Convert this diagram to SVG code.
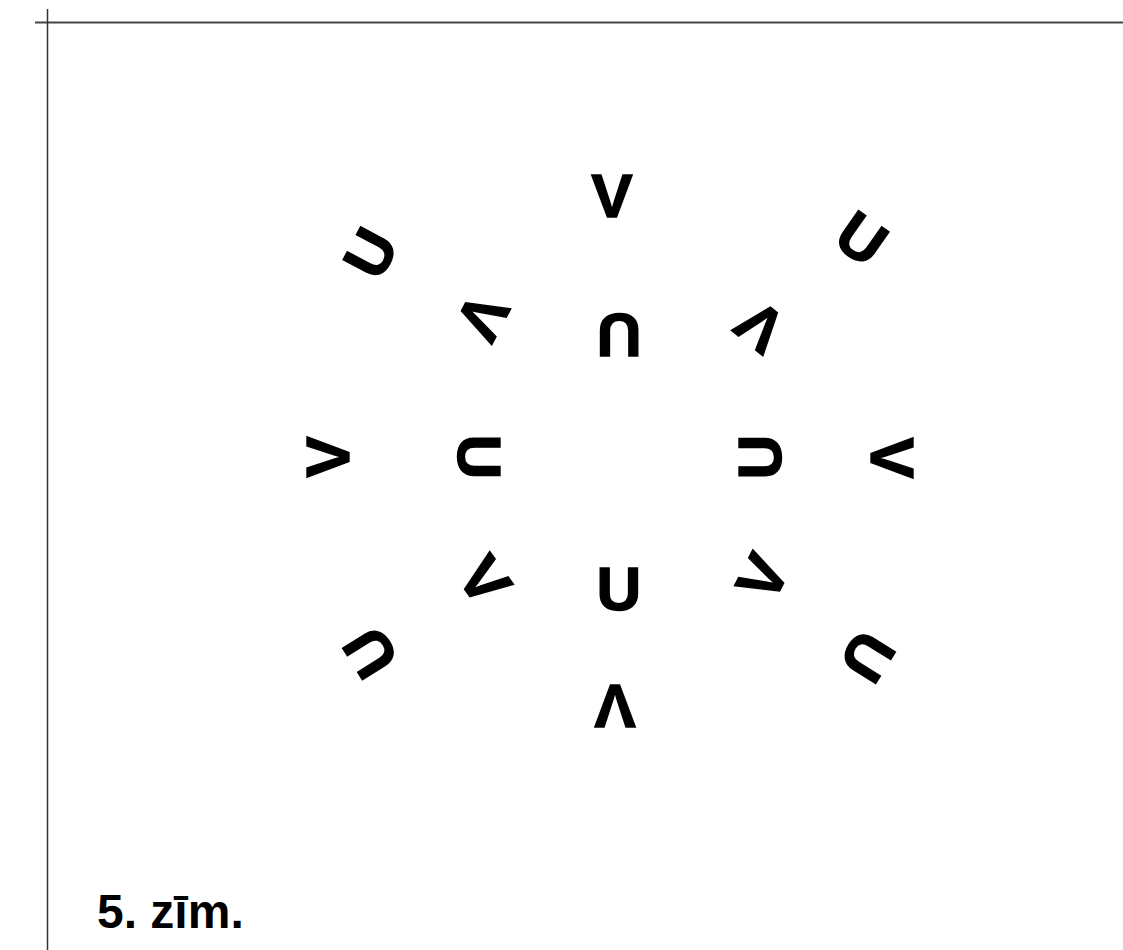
<svg xmlns="http://www.w3.org/2000/svg" width="1123" height="950" viewBox="0 0 1123 950">
<style>
.l{font-family:"Liberation Sans",Arial,sans-serif;font-weight:bold;font-size:62px;fill:#000;stroke:#000;stroke-width:1.4;stroke-linejoin:miter;text-anchor:middle}
.cap{font-family:"Liberation Sans",Arial,sans-serif;font-weight:bold;font-size:48px;fill:#000}
</style>
<rect width="1123" height="950" fill="#fff"/>
<g id="frame">
<line x1="35" y1="22.5" x2="1123" y2="22.5" stroke="#444" stroke-width="2"/>
<line x1="47.5" y1="9" x2="47.5" y2="950" stroke="#333" stroke-width="1.5"/>
</g>
<g id="outer">
<g id="o-top" transform="translate(612,195) rotate(0)"><text class="l" x="0" y="22">V</text></g>
<g id="o-right" transform="translate(893,458) rotate(90)"><text class="l" x="0" y="22">V</text></g>
<g id="o-bottom" transform="translate(615,707) rotate(180)"><text class="l" x="0" y="22">V</text></g>
<g id="o-left" transform="translate(327,457) rotate(-90)"><text class="l" x="0" y="22">V</text></g>
<g id="o-ul" transform="translate(370,253) rotate(-62)"><text class="l" x="0" y="22">U</text></g>
<g id="o-ur" transform="translate(862,238) rotate(35)"><text class="l" x="0" y="22">U</text></g>
<g id="o-lr" transform="translate(868,657) rotate(122)"><text class="l" x="0" y="22">U</text></g>
<g id="o-ll" transform="translate(370,653) rotate(-122)"><text class="l" x="0" y="22">U</text></g>
</g>
<g id="inner">
<g id="i-top" transform="translate(619,336) rotate(180)"><text class="l" x="0" y="22">U</text></g>
<g id="i-right" transform="translate(759,457) rotate(-90)"><text class="l" x="0" y="22">U</text></g>
<g id="i-bottom" transform="translate(619,588) rotate(0)"><text class="l" x="0" y="22">U</text></g>
<g id="i-left" transform="translate(480,457) rotate(90)"><text class="l" x="0" y="22">U</text></g>
<g id="i-ul" transform="translate(483,317) rotate(118)"><text class="l" x="0" y="22">V</text></g>
<g id="i-ur" transform="translate(760,327) rotate(-141)"><text class="l" x="0" y="22">V</text></g>
<g id="i-lr" transform="translate(762,577) rotate(-63)"><text class="l" x="0" y="22">V</text></g>
<g id="i-ll" transform="translate(485,580) rotate(54)"><text class="l" x="0" y="22">V</text></g>
</g>
<text id="caption" class="cap" x="97" y="928">5. zīm.</text>
</svg>
